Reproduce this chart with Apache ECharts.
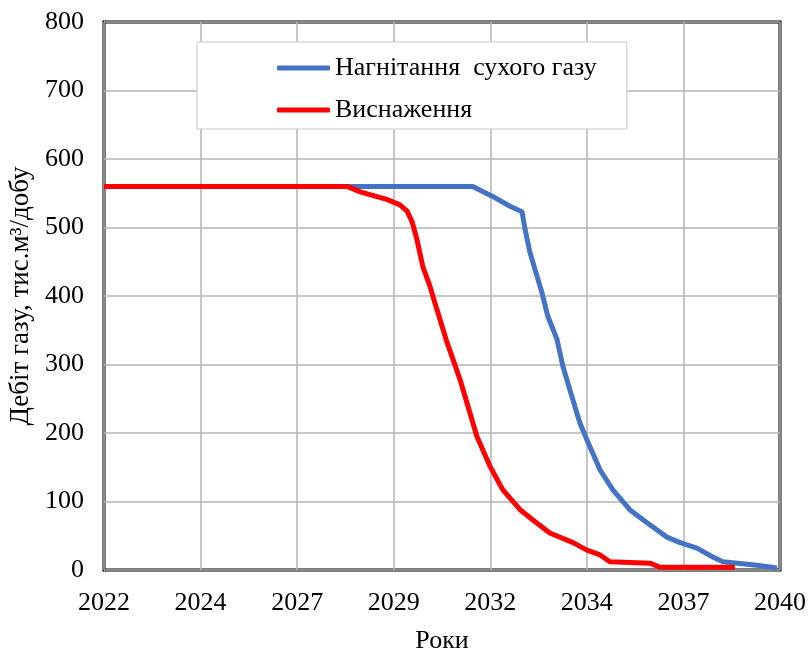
<!DOCTYPE html>
<html>
<head>
<meta charset="utf-8">
<script src="https://cdn.jsdelivr.net/npm/echarts@6/dist/echarts.min.js"></script>
<style>
  html, body { margin: 0; padding: 0; background: #ffffff; }
  #chart { width: 809px; height: 652px; }
</style>
</head>
<body>
<div id="chart"></div>
<script>
// Time axis: 2022..2040 split into 7 equal steps, labelled by year
const xTickLabels = ['2022', '2024', '2027', '2029', '2032', '2034', '2037', '2040'];
const yearStart = 2022;
const yearEnd = 2040;

// Dry gas injection scenario: [year, rate]
const injectionYears = [2022.0, 2031.82, 2032.36, 2032.81, 2033.13, 2033.21, 2033.34, 2033.53, 2033.66, 2033.82,
  2034.06, 2034.22, 2034.46, 2034.67, 2034.89, 2035.21, 2035.55, 2036.00, 2036.46, 2036.99,
  2037.34, 2037.79, 2038.21, 2038.48, 2039.39, 2039.92];
const injectionRates = [560, 560, 545, 531, 523, 498, 464, 429, 405, 370,
  337, 297, 253, 215, 186, 146, 117, 88, 69, 48,
  40, 32, 19, 12, 7, 3];

// Depletion scenario: [year, rate]
const depletionYears = [2022.0, 2028.47, 2028.82, 2029.53, 2029.88, 2030.07, 2030.20, 2030.33, 2030.49, 2030.68,
  2030.81, 2031.13, 2031.48, 2031.93, 2032.28, 2032.62, 2033.08, 2033.42, 2033.87, 2034.49,
  2034.86, 2035.21, 2035.47, 2036.54, 2036.80, 2038.80];
const depletionRates = [560, 560, 552, 541, 533, 524, 509, 483, 443, 414,
  390, 333, 278, 195, 151, 117, 88, 73, 54, 40,
  29, 22, 12, 10, 4, 4];

const seriesNames = ['Нагнітання  сухого газу', 'Виснаження'];

const step = (yearEnd - yearStart) / (xTickLabels.length - 1);
function toPairs(years, rates) {
  return years.map((y, i) => [(y - yearStart) / step, rates[i]]);
}

const font = 'Liberation Serif, Times New Roman, serif';
const chart = echarts.init(document.getElementById('chart'), null, { renderer: 'canvas' });

chart.setOption({
  animation: false,
  backgroundColor: '#ffffff',
  textStyle: { fontFamily: font, color: '#000' },
  grid: {
    left: 104, right: 29, top: 22, bottom: 82,
    outerBoundsMode: 'none',
    containLabel: false,
    show: true, borderColor: '#000', borderWidth: 3, backgroundColor: 'transparent'
  },
  legend: {
    orient: 'vertical',
    left: 197, top: 42,
    padding: [13, 30, 6, 80],
    itemGap: 16,
    itemWidth: 53, itemHeight: 5,
    icon: 'roundRect',
    backgroundColor: '#fff',
    borderColor: '#c8c8c8', borderWidth: 1,
    textStyle: { fontFamily: font, fontSize: 26, color: '#000' },
    data: seriesNames
  },
  xAxis: {
    type: 'value',
    min: 0, max: xTickLabels.length - 1, interval: 1,
    name: 'Роки',
    nameLocation: 'middle',
    nameGap: 58,
    nameTextStyle: { fontFamily: font, fontSize: 26, color: '#000' },
    axisLine: { show: false },
    axisTick: { show: false },
    axisLabel: {
      margin: 20, fontFamily: font, fontSize: 26, color: '#000',
      formatter: v => xTickLabels[Math.round(v)]
    },
    splitLine: { show: true, lineStyle: { color: '#b3b3b3', width: 1.5 } }
  },
  yAxis: {
    type: 'value',
    min: 0, max: 800, interval: 100,
    name: 'Дебіт газу, тис.м³/добу',
    nameLocation: 'middle',
    nameGap: 66,
    nameRotate: 90,
    nameTextStyle: { fontFamily: font, fontSize: 27, color: '#000' },
    axisLine: { show: false },
    axisTick: { show: false },
    axisLabel: { margin: 20, fontFamily: font, fontSize: 26, color: '#000' },
    splitLine: { show: true, lineStyle: { color: '#b3b3b3', width: 1.5 } }
  },
  series: [
    {
      name: seriesNames[0],
      type: 'line',
      symbol: 'none',
      lineStyle: { color: '#4472c4', width: 5 },
      itemStyle: { color: '#4472c4' },
      data: toPairs(injectionYears, injectionRates)
    },
    {
      name: seriesNames[1],
      type: 'line',
      symbol: 'none',
      lineStyle: { color: '#ff0000', width: 5 },
      itemStyle: { color: '#ff0000' },
      data: toPairs(depletionYears, depletionRates)
    }
  ]
});
</script>
</body>
</html>
